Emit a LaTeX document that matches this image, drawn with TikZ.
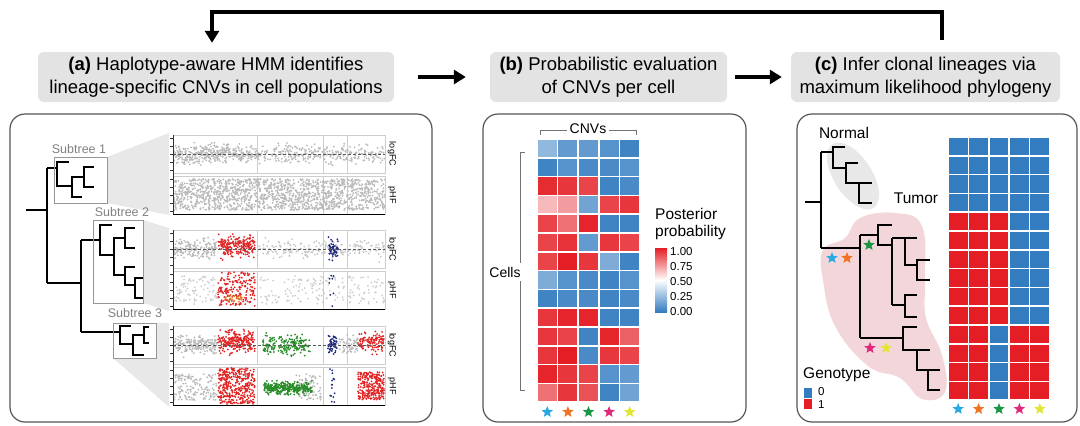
\documentclass[tikz,border=0pt]{standalone}
\usepackage{fontspec}
\setmainfont{Liberation Sans}
\usetikzlibrary{arrows.meta,shapes.geometric,positioning}

\definecolor{headgray}{RGB}{227,227,227}
\definecolor{panelgray}{RGB}{85,85,85}
\definecolor{boxgray}{RGB}{150,150,150}
\definecolor{framegray}{RGB}{205,205,205}
\definecolor{wedgegray}{RGB}{232,232,232}
\definecolor{ptgray}{RGB}{185,185,185}
\definecolor{ptred}{RGB}{225,35,35}
\definecolor{ptgreen}{RGB}{40,140,40}
\definecolor{ptblue}{RGB}{30,40,130}
\definecolor{ptorange}{RGB}{225,120,40}
\definecolor{hmblue}{RGB}{52,124,192}
\definecolor{hmred}{RGB}{228,30,36}
\definecolor{normalgray}{RGB}{232,232,232}
\definecolor{tumorpink}{RGB}{243,214,218}
\definecolor{scyan}{RGB}{40,170,225}
\definecolor{sorange}{RGB}{240,115,35}
\definecolor{sgreen}{RGB}{25,150,70}
\definecolor{smagenta}{RGB}{225,40,125}
\definecolor{syellow}{RGB}{225,230,50}

\newcommand{\ptcloud}[6]{%
  \foreach \k in {1,...,#5}{
    \pgfmathsetmacro\px{#1+rnd*(#2-#1)}
    \pgfmathsetmacro\py{#3+(rnd+rnd+rnd-1.5)*#4}
    \fill[#6] (\px,\py) circle (1);
  }}
\newcommand{\ptband}[6]{%
  \foreach \k in {1,...,#5}{
    \pgfmathsetmacro\px{#1+rnd*(#2-#1)}
    \pgfmathsetmacro\py{#3+rnd*(#4-#3)}
    \fill[#6] (\px,\py) circle (1);
  }}

\tikzset{
  header/.style={fill=headgray, rounded corners=6pt, minimum height=50pt,
    align=center, inner sep=0pt, font=\fontsize{18.5}{23}\selectfont},
  panel/.style={draw=panelgray, line width=1.2pt, rounded corners=15pt},
  flow/.style={line width=3.5pt, -{Triangle[length=12pt,width=14pt]}},
  branch/.style={line width=2.2pt, line join=miter},
  subbox/.style={draw=boxgray, line width=0.9pt},
  sublabel/.style={text=black!50, font=\fontsize{12.5}{14}\selectfont},
  axislabel/.style={rotate=-90, font=\fontsize{9}{10}\selectfont},
  starmark/.style={shape=star, star points=5, star point ratio=2.3,
    minimum size=12pt, inner sep=0pt},
  midtext/.style={font=\fontsize{14}{16}\selectfont},
  bigtext/.style={font=\fontsize{15.5}{17}\selectfont},
  ticktext/.style={font=\fontsize{11.5}{12}\selectfont, inner sep=0pt}
}

\begin{document}
\begin{tikzpicture}[x=1pt, y=-1pt]
  \useasboundingbox (0,0) rectangle (1080,426);
  \pgfmathsetseed{7}

  \node[header, minimum width=356pt] (ha) at (216,77)
    {\textbf{(a)} Haplotype-aware HMM identifies\\lineage-specific CNVs in cell populations};
  \node[header, minimum width=237pt] (hb) at (608.5,77)
    {\textbf{(b)} Probabilistic evaluation\\of CNVs per cell};
  \node[header, minimum width=269pt] (hc) at (925.5,77)
    {\textbf{(c)} Infer clonal lineages via\\maximum likelihood phylogeny};
  \draw[flow, shorten <=24pt, shorten >=24pt] (ha) -- (hb);
  \draw[flow, shorten <=8pt, shorten >=9pt] (hb) -- (hc);
  \coordinate (fbtop) at ([xshift=16.5pt,yshift=12pt]hc.north);
  \coordinate (fbend) at ([xshift=-4pt,yshift=9pt]ha.north);
  \draw[flow] (fbtop) -- ++(0,-28) -| (fbend);

  \draw[panel] (10,114) rectangle (432,422);
  \draw[panel] (483,114) rectangle (746,422);
  \draw[panel] (797,114) rectangle (1077,422);

  % (a) zoom wedges and plots
  \fill[wedgegray] (107,157) -- (169,133) -- (169,215) -- (107,203) -- cycle;
  \fill[wedgegray] (143,220) -- (169,228) -- (169,311) -- (143,303) -- cycle;
  \fill[wedgegray] (156,323) -- (169,323) -- (169,407) -- (113,358) -- (156,358) -- cycle;

  \foreach \g/\T in {1/135,2/230,3/326}{
    \fill[white] (173,\T) rectangle (385,\T+79);
    \draw[framegray] (173,\T) rectangle (385,\T+38) (173,\T+41) rectangle (385,\T+79);
    \foreach \xd in {257,323,347}
      \draw[framegray] (\xd,\T) -- (\xd,\T+38) (\xd,\T+41) -- (\xd,\T+79);
  }

  \begin{scope}
    \clip (174,135) rectangle (385,214);
    \ptcloud{174}{257}{154}{9}{380}{ptgray}
    \ptcloud{257}{385}{154}{9}{300}{ptgray}
    \ptband{174}{385}{179}{210}{1500}{ptgray}
  \end{scope}
  \begin{scope}
    \clip (174,230) rectangle (385,309);
    \ptcloud{174}{217}{249}{9}{170}{ptgray}
    \ptcloud{257}{385}{249}{9}{200}{ptgray!80}
    \ptcloud{218}{255}{246}{10}{220}{ptred}
    \ptcloud{328}{338}{249}{9}{55}{ptblue}
    \ptband{174}{217}{276}{304}{90}{ptgray!70}
    \ptband{257}{385}{276}{304}{170}{ptgray!70}
    \ptband{218}{255}{272}{306}{190}{ptred}
    \ptcloud{225}{242}{299}{4}{30}{ptorange}
    \ptband{329}{336}{272}{308}{8}{ptblue}
  \end{scope}
  \begin{scope}
    \clip (174,326) rectangle (385,405);
    \ptcloud{174}{217}{345}{9}{190}{ptgray}
    \ptcloud{338}{358}{345}{9}{60}{ptgray}
    \ptcloud{218}{255}{342}{10}{240}{ptred}
    \ptcloud{262}{310}{345}{10}{190}{ptgreen}
    \ptcloud{328}{337}{345}{9}{55}{ptblue}
    \ptcloud{358}{384}{342}{9}{120}{ptred}
    \ptband{174}{217}{374}{400}{150}{ptgray}
    \ptband{296}{322}{374}{400}{70}{ptgray}
    \ptband{218}{255}{368}{404}{380}{ptred}
    \ptcloud{264}{312}{388}{6}{320}{ptgreen}
    \ptband{329}{336}{368}{404}{15}{ptblue}
    \ptband{358}{384}{372}{400}{260}{ptred}
  \end{scope}

  \foreach \g/\T in {1/135,2/230,3/326}{
    \draw[densely dashed, black!65, line width=0.8pt] (173,\T+19) -- (385,\T+19);
    \draw[black!80] (173,\T) -- (173,\T+79);
    \foreach \ty in {3,11,19,27,35,44,52,60,68,76}
      \draw[black!80] (170,\T+\ty) -- (173,\T+\ty);
    \draw[line width=1pt] (173,\T+79) -- (385,\T+79);
    \node[axislabel] (lfc\g) at (392,\T+19) {logFC};
    \node[axislabel] (phf\g) at (392,\T+60) {pHF};
  }

  \draw[branch]
    (26,210) -- (47,210)
    (47,168) -- (47,283)
    (47,168) -- (57,168)
    (69,162) -| (57,186) -- (72,186)
    (84,177) -| (72,197) -- (82,197)
    (94,167) -| (84,187) -- (94,187)
    (47,283) -- (81,283)
    (81,240) -- (81,332)
    (81,240) -- (100,240)
    (112,225) -| (100,255) -- (114,255)
    (125,238) -| (114,275) -- (125,275)
    (135,228) -| (125,248) -- (135,248)
    (135,267) -| (125,285) -- (135,285)
    (143,278) -| (135,298) -- (143,298)
    (81,332) -- (120,332)
    (131,326) -| (120,344) -- (133,344)
    (144,335) -| (133,355) -- (144,355)
    (149,327) -| (144,343) -- (149,343);
  \draw[subbox] (54,157) rectangle (107,203);
  \draw[subbox] (93,220) rectangle (143,303);
  \draw[subbox] (113,323) rectangle (156,358);
  \node[sublabel] (st1) at (79,149) {Subtree 1};
  \node[sublabel] (st2) at (122,212) {Subtree 2};
  \node[sublabel] (st3) at (135,313) {Subtree 3};

  % (b) posterior heatmap
  \foreach \row [count=\j from 0] in {{.35,.2,.2,.15,.05},{.05,.15,.1,.1,.15},
      {.95,.9,.85,.05,.1},{.55,.6,.25,.85,.9},{.85,.7,.98,.05,.05},
      {.85,.92,.2,.9,.85},{.85,1,.9,.3,.05},{.3,.15,.1,.05,.15},
      {.05,.1,.1,.05,.1},{.9,.98,.98,.05,.05},{.9,.85,.05,.98,.75},
      {.9,1,.1,.9,.85},{.98,.9,.85,.15,.2},{.7,.9,.8,.05,.25}}{
    \foreach \v [count=\i from 0] in \row {
      \pgfmathtruncatemacro\isblue{\v<0.5}
      \pgfmathtruncatemacro\mix{100*sqrt(abs(\v-0.5)*2)}
      \ifnum\isblue=1 \def\cellcol{hmblue!\mix!white}\else\def\cellcol{hmred!\mix!white}\fi
      \fill[\cellcol] ({537.8+20.6*\i},{139.8+18.8*\j}) rectangle ++(19,17.2);
    }
  }
  \draw[black!55] (540,135) -- (540,130) -- (636,130) -- (636,135);
  \node[midtext, fill=white, inner sep=3pt] (cnvs) at (588,129) {CNVs};
  \draw[black!55] (525,152) -- (520,152) -- (520,390) -- (525,390);
  \node[midtext, fill=white, inner sep=4pt] (cells) at (505,272) {Cells};
  \foreach \c [count=\i from 0] in {scyan,sorange,sgreen,smagenta,syellow}
    \node[starmark, fill=\c] (bstar\i) at ({547.3+20.6*\i},412) {};
  \node[bigtext, anchor=north west, align=left, inner sep=0pt] (post) at (655,208)
    {Posterior\\probability};
  \shade[top color=hmred, bottom color=hmblue, middle color=white] (655,248) rectangle (667,312);
  \foreach \lab/\ly in {1.00/252,0.75/267,0.50/282,0.25/297,0.00/312}
    \node[ticktext, anchor=west] (tick\ly) at (670,\ly) {\lab};

  % (c) clonal tree and genotypes
  \fill[normalgray, rotate around={-57:(853,176)}] (853,176) ellipse [x radius=38, y radius=19];
  \fill[tumorpink] plot[smooth cycle, tension=0.7] coordinates {(860,218) (895,213)
    (922,226) (925,280) (926,318) (942,355) (945,392) (922,399) (900,378) (868,366)
    (835,326) (823,280) (823,250) (845,238)};
  \node[bigtext] (normal) at (844,133) {Normal};
  \node[bigtext] (tumor) at (916,198) {Tumor};
  \draw[branch, line width=1.8pt]
    (805,202) -- (821,202)
    (821,152) -- (821,248)
    (821,152) -- (833,152)
    (845,147) -| (833,168) -- (846,168)
    (858,163) -| (846,183) -- (872,183)
    (859,183) -- (859,203) -- (872,203)
    (821,248) -- (860,248)
    (860,235) -- (860,338)
    (860,235) -- (878,235)
    (892,225) -| (878,245) -- (892,245)
    (892,238) -- (892,305)
    (892,238) -- (917,238)
    (905,238) -- (905,265) -- (917,265)
    (930,260) -| (917,280) -- (930,280)
    (892,305) -- (905,305)
    (917,295) -| (905,317) -- (917,317)
    (860,338) -- (903,338)
    (917,327) -| (903,350) -- (930,350)
    (917,350) -- (917,370) -- (940,370)
    (928,370) -- (928,390) -- (940,390);
  \node[starmark, fill=scyan] (cstar1) at (832,258) {};
  \node[starmark, fill=sorange] (cstar2) at (847,258) {};
  \node[starmark, fill=sgreen] (cstar3) at (869,245) {};
  \node[starmark, fill=smagenta] (cstar4) at (870,348) {};
  \node[starmark, fill=syellow] (cstar5) at (886,348) {};

  \foreach \row [count=\j from 0] in {{0,0,0,0,0},{0,0,0,0,0},{0,0,0,0,0},{0,0,0,0,0},
      {1,1,1,0,0},{1,1,1,0,0},{1,1,1,0,0},{1,1,1,0,0},{1,1,1,0,0},{1,1,1,0,0},
      {1,1,0,1,1},{1,1,0,1,1},{1,1,0,1,1},{1,1,0,1,1}}{
    \foreach \v [count=\i from 0] in \row {
      \ifnum\v=1 \def\cellcol{hmred}\else\def\cellcol{hmblue}\fi
      \fill[\cellcol] ({948.8+20.4*\i},{137.8+18.8*\j}) rectangle ++(18.8,17.2);
    }
  }
  \foreach \c [count=\i from 0] in {scyan,sorange,sgreen,smagenta,syellow}
    \node[starmark, fill=\c] (gstar\i) at ({958.2+20.4*\i},409) {};
  \node[bigtext, anchor=west, inner sep=0pt] (geno) at (803,375) {Genotype};
  \fill[hmblue] (804,388) rectangle (812,398);
  \fill[hmred] (804,399) rectangle (812,409);
  \node[ticktext, anchor=west] (g0) at (818,392) {0};
  \node[ticktext, anchor=west] (g1) at (818,405) {1};
\end{tikzpicture}
\end{document}
